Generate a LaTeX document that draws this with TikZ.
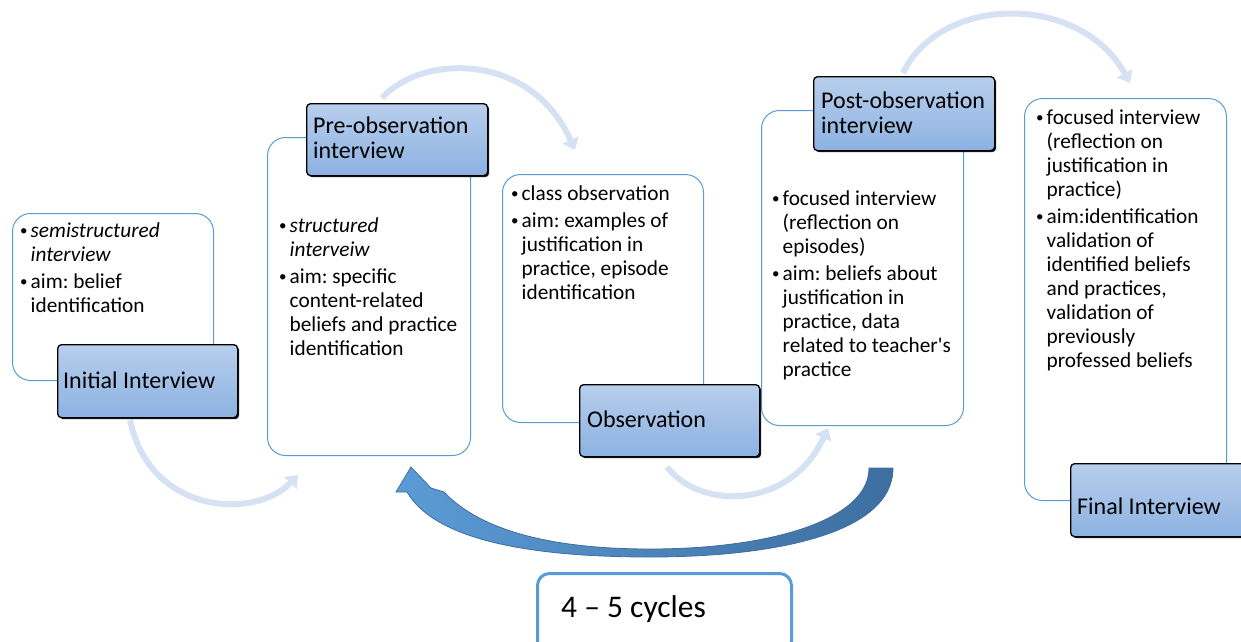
\documentclass[tikz,border=0pt]{standalone}
\usepackage{fontspec}
\setmainfont{Carlito}[Ligatures=TeXOff]
\usetikzlibrary{arrows.meta,shadows}
\definecolor{boxline}{RGB}{91,155,213}
\definecolor{headtop}{RGB}{184,206,236}
\definecolor{headbot}{RGB}{140,178,226}
\definecolor{arcc}{RGB}{214,226,243}
\definecolor{bigl}{RGB}{91,155,213}
\definecolor{bigd}{RGB}{62,110,160}
\frenchspacing
\newcommand\tb[1]{\parbox[t]{300pt}{\raggedright\let\\\newline\fontsize{21.3}{24}\selectfont\setlength\parskip{3pt}#1}}
\newcommand\hd[1]{\parbox[t]{250pt}{\raggedright\fontsize{24}{25}\selectfont #1}}
\newcommand\bi{\par\hangindent=10.5pt\hangafter=1\noindent\makebox[10.5pt][l]{\raisebox{1.8pt}{\fontsize{15}{15}\selectfont•}}}
\begin{document}
\begin{tikzpicture}[x=1pt,y=-1pt,
  textbox/.style={draw=boxline, line width=1pt, rounded corners=18pt, fill=white, anchor=north west, inner sep=0pt},
  headbox/.style={draw=black, line width=1.3pt, rounded corners=4pt, top color=headtop, bottom color=headbot, anchor=north west, inner sep=0pt,
     drop shadow={shadow xshift=1.5pt, shadow yshift=-1.5pt, fill=black, opacity=0.9}},
  txt/.style={anchor=base west, inner sep=0pt},
  arcline/.style={draw=arcc, line width=6pt, -{Triangle[width=17pt,length=11pt]}},
  cycbox/.style={draw=boxline, line width=3pt, rounded corners=12pt, fill=white, anchor=north west, inner sep=0pt}
]
\useasboundingbox (0,0) rectangle (1241,641);

% light arcs
\coordinate (a1s) at (130,420); \coordinate (a1e) at (298,475);
\coordinate (a2s) at (382,98);  \coordinate (a2e) at (575,150);
\coordinate (a3s) at (667,467); \coordinate (a3e) at (828,428);
\coordinate (a4s) at (903,73);  \coordinate (a4e) at (1130,83);
\draw[arcline] (a1s) .. controls (150,515) and (255,520) .. (a1e);
\draw[arcline] (a2s) .. controls (420,55) and (530,50) .. (a2e);
\draw[arcline] (a3s) .. controls (700,510) and (790,510) .. (a3e);
\draw[arcline] (a4s) .. controls (940,-5) and (1080,-8) .. (a4e);

% big curved arrow
\path[left color=bigl, right color=bigd, draw=bigd, line width=0.8pt]
 (396,492) -- (411,467) -- (431,488) -- (444,492)
 .. controls (480,530) and (550,549) .. (650,549)
 .. controls (770,549) and (869,520) .. (869,468)
 -- (893,468)
 .. controls (893,535) and (770,557) .. (650,557)
 .. controls (530,557) and (435,540) .. (407,492) -- cycle;

% text boxes
\node[textbox, minimum width=201pt, minimum height=167pt] (t1) at (12,213) {};
\node[textbox, minimum width=203pt, minimum height=318pt] (t2) at (267,137) {};
\node[textbox, minimum width=201pt, minimum height=248pt] (t3) at (502,174) {};
\node[textbox, minimum width=202pt, minimum height=315pt] (t4) at (761,110) {};
\node[textbox, minimum width=202pt, minimum height=402pt] (t5) at (1024,98) {};

% heading boxes
\node[headbox, minimum width=180pt, minimum height=73pt] (h1) at (57,344) {};
\node[headbox, minimum width=181pt, minimum height=72pt] (h2) at (306,103) {};
\node[headbox, minimum width=180pt, minimum height=72pt] (h3) at (579,384) {};
\node[headbox, minimum width=181pt, minimum height=74pt] (h4) at (813,76) {};
\node[headbox, minimum width=185pt, minimum height=73pt] (h5) at (1070,463) {};

% box texts
\node[txt] (x1) at (20,237) {\tb{\bi\textit{semistructured}\\\textit{interview}\bi aim: belief\\identification}};
\node[txt] (x2) at (279,232) {\tb{\bi\textit{structured}\\\textit{interveiw}\bi aim: specific\\content-related\\beliefs and practice\\identification}};
\node[txt] (x3) at (511,200) {\tb{\bi class observation\bi aim: examples of\\justification in\\practice, episode\\identification}};
\node[txt] (x4) at (772,205) {\tb{\bi focused interview\\(reflection on\\episodes)\bi aim: beliefs about\\justification in\\practice, data\\related to teacher's\\practice}};
\node[txt] (x5) at (1036,124) {\tb{\bi focused interview\\(reflection on\\justification in\\practice)\bi aim:identification\\validation of\\identified beliefs\\and practices,\\validation of\\previously\\professed beliefs}};

% heading texts
\node[txt] (hx1) at (63,388) {\hd{Initial Interview}};
\node[txt] (hx2) at (313,133) {\hd{Pre-observation\\interview}};
\node[txt] (hx3) at (587,427) {\hd{Observation}};
\node[txt] (hx4) at (821,108) {\hd{Post-observation\\interview}};
\node[txt] (hx5) at (1077,514) {\hd{Final Interview}};

% cycles
\node[cycbox, minimum width=254pt, minimum height=80pt] (cyc) at (536,572) {};
\node[txt] (cyct) at (561,617) {\fontsize{31.5}{34}\selectfont 4 – 5 cycles};
\end{tikzpicture}
\end{document}
